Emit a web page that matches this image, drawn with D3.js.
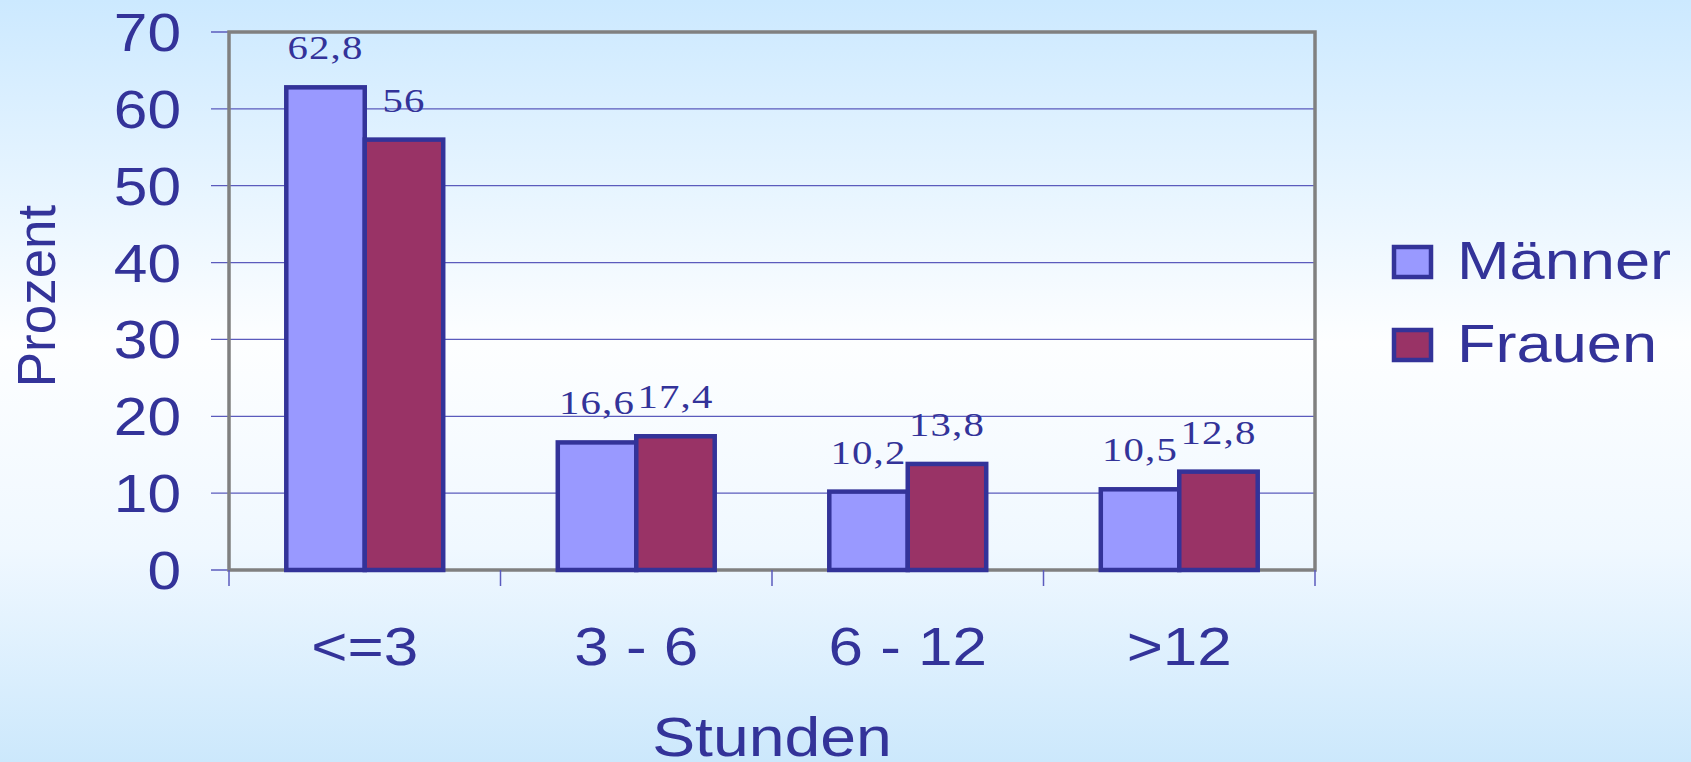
<!DOCTYPE html>
<html>
<head>
<meta charset="utf-8">
<script src="https://cdn.jsdelivr.net/npm/d3@7"></script>
<style>
  html, body { margin: 0; padding: 0; }
  svg { display: block; }
</style>
</head>
<body>
<svg id="chart"></svg>
<script>
var categories = ["<=3", "3 - 6", "6 - 12", ">12"];
var series = ["Männer", "Frauen"];
var maenner = [62.8, 16.6, 10.2, 10.5];
var frauen = [56, 17.4, 13.8, 12.8];
var valueLabels = [["62,8", "56"], ["16,6", "17,4"], ["10,2", "13,8"], ["10,5", "12,8"]];
var yTicks = [0, 10, 20, 30, 40, 50, 60, 70];
var colors = ["#9999ff", "#993366"];

var Chart = (function(){
  var width = 1691, height = 762;
  var ink = "#333399";
  var sans = "Liberation Sans, Arial, sans-serif";
  var serif = "Liberation Serif, Times New Roman, serif";
  var stretch = 1.17; // the original text is drawn a bit wide
  var plotLeft = 229, plotRight = 1315, plotTop = 32, plotBottom = 570;

  // place a horizontally stretched text
  var at = function(x, y, sx){
    return "translate(" + x + "," + y + ") scale(" + (sx || stretch) + ",1)";
  };

  var draw = function(){
    var svg = d3.select("#chart").attr("width", width).attr("height", height);

    // background gradient
    var grad = svg.append("defs").append("linearGradient")
      .attr("id", "bg").attr("x1", 0).attr("y1", 0).attr("x2", 0).attr("y2", 1);
    grad.append("stop").attr("offset", "0").attr("stop-color", "#cce9ff");
    grad.append("stop").attr("offset", "0.45").attr("stop-color", "#fdfeff");
    grad.append("stop").attr("offset", "0.72").attr("stop-color", "#f0f8ff");
    grad.append("stop").attr("offset", "1").attr("stop-color", "#cce8fc");
    svg.append("rect").attr("width", width).attr("height", height).attr("fill", "url(#bg)");

    var x0 = d3.scaleBand().domain(categories).range([plotLeft, plotRight]).padding(0);
    var x1 = d3.scaleBand().domain(series).range([0, x0.bandwidth()]).paddingInner(0).paddingOuter(0.73);
    var y = d3.scaleLinear().domain([0, 70]).range([plotBottom, plotTop]);

    // gridlines (with little ticks to the left)
    svg.append("g").selectAll("line").data(yTicks).enter().append("line")
      .attr("x1", plotLeft - 18).attr("x2", plotRight)
      .attr("y1", function(d){ return y(d); }).attr("y2", function(d){ return y(d); })
      .attr("stroke", "#5b5bbd").attr("stroke-width", 1.3);

    // y tick labels
    svg.append("g").selectAll("text").data(yTicks).enter().append("text")
      .attr("transform", function(d){ return at(181, y(d) + 19, 1.14); })
      .attr("text-anchor", "end")
      .attr("font-family", sans)
      .attr("font-size", 53).attr("fill", ink)
      .text(function(d){ return d; });

    // frame
    svg.append("rect").attr("x", plotLeft).attr("y", plotTop)
      .attr("width", plotRight - plotLeft).attr("height", plotBottom - plotTop)
      .attr("fill", "none").attr("stroke", "#808080").attr("stroke-width", 3.5);

    // x ticks at band edges
    var edges = categories.map(function(c){ return x0(c); }).concat([plotRight]);
    svg.append("g").selectAll("line").data(edges).enter().append("line")
      .attr("x1", function(d){ return d; }).attr("x2", function(d){ return d; })
      .attr("y1", plotBottom).attr("y2", plotBottom + 16)
      .attr("stroke", "#5b5bbd").attr("stroke-width", 1.5);

    // bars
    var rows = categories.map(function(c, i){
      return { cat: c, vals: [maenner[i], frauen[i]], labels: valueLabels[i] };
    });
    var groups = svg.append("g").selectAll("g").data(rows).enter().append("g")
      .attr("transform", function(d){ return "translate(" + x0(d.cat) + ",0)"; });

    groups.selectAll("rect").data(function(d){
        return d.vals.map(function(v, j){ return { s: series[j], v: v, j: j }; });
      }).enter().append("rect")
      .attr("x", function(d){ return x1(d.s); })
      .attr("y", function(d){ return y(d.v); })
      .attr("width", x1.bandwidth())
      .attr("height", function(d){ return y(0) - y(d.v); })
      .attr("fill", function(d){ return colors[d.j]; })
      .attr("stroke", ink).attr("stroke-width", 4.5);

    groups.selectAll("text").data(function(d){
        return d.vals.map(function(v, j){ return { s: series[j], v: v, t: d.labels[j] }; });
      }).enter().append("text")
      .attr("transform", function(d){ return at(x1(d.s) + x1.bandwidth() / 2, y(d.v) - 28, 1.2); })
      .attr("text-anchor", "middle")
      .attr("font-family", serif)
      .attr("font-size", 34).attr("letter-spacing", 1).attr("fill", ink)
      .text(function(d){ return d.t; });

    // x category labels
    svg.append("g").selectAll("text").data(categories).enter().append("text")
      .attr("transform", function(d){ return at(x0(d) + x0.bandwidth() / 2, 665); })
      .attr("text-anchor", "middle")
      .attr("font-family", sans)
      .attr("font-size", 53).attr("fill", ink)
      .text(function(d){ return d; });

    // axis titles
    svg.append("text").attr("transform", at((plotLeft + plotRight) / 2, 756))
      .attr("text-anchor", "middle")
      .attr("font-family", sans)
      .attr("font-size", 55).attr("fill", ink).text("Stunden");

    svg.append("text")
      .attr("transform", "translate(55,296) rotate(-90)")
      .attr("text-anchor", "middle")
      .attr("font-family", sans)
      .attr("font-size", 53).attr("fill", ink).text("Prozent");

    // legend
    var legend = svg.append("g").selectAll("g").data(series).enter().append("g")
      .attr("transform", function(d, i){ return "translate(1394," + (247 + i * 83) + ")"; });
    legend.append("rect").attr("width", 37).attr("height", 30)
      .attr("fill", function(d, i){ return colors[i]; })
      .attr("stroke", ink).attr("stroke-width", 4.5);
    legend.append("text").attr("transform", at(63, 32))
      .attr("font-family", sans)
      .attr("font-size", 54).attr("fill", ink)
      .text(function(d){ return d; });
  };

  return { draw: draw };
})();

Chart.draw();
</script>
</body>
</html>
